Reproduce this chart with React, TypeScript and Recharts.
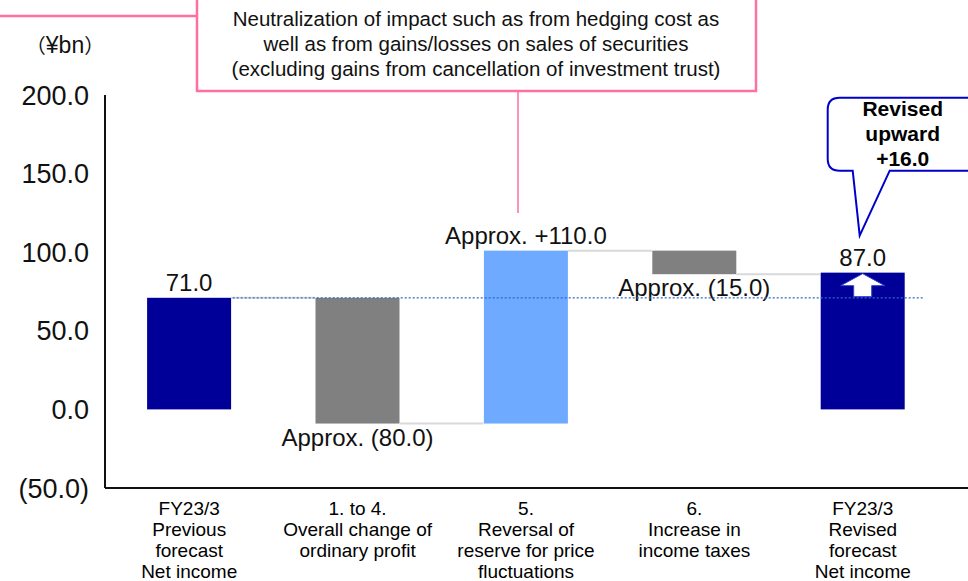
import { BarChart, Bar, XAxis, YAxis } from 'recharts';

const categories = [
  'FY23/3\nPrevious\nforecast\nNet income',
  '1. to 4.\nOverall change of\nordinary profit',
  '5.\nReversal of\nreserve for price\nfluctuations',
  '6.\nIncrease in\nincome taxes',
  'FY23/3\nRevised\nforecast\nNet income',
];
const changes = [71, -80, 110, -15, 87];
const isTotal = [true, false, false, false, true];
const valueLabels = ['71.0', 'Approx. (80.0)', 'Approx. +110.0', 'Approx. (15.0)', '87.0'];
const barColors = ['#000099', '#808080', '#6EAAFF', '#808080', '#000099'];
const yTicks = [-50, 0, 50, 100, 150, 200];
const previousForecast = 71;
const noteLines = [
  'Neutralization of impact such as from hedging cost as',
  'well as from gains/losses on sales of securities',
  '(excluding gains from cancellation of investment trust)',
];
const calloutLines = ['Revised', 'upward', '+16.0'];

let running = 0;
const data = categories.map((name, i) => {
  const start = isTotal[i] ? 0 : running;
  const end = isTotal[i] ? changes[i] : running + changes[i];
  running = end;
  return {
    name,
    range: [Math.min(start, end), Math.max(start, end)],
    up: end >= start,
    label: valueLabels[i],
    color: barColors[i],
  };
});

const FONT = '"Liberation Sans", Arial, "Noto Sans CJK JP", sans-serif';
const CJK = '"Noto Sans CJK JP", sans-serif';

function fmtTick(v: number) {
  return v < 0 ? `(${Math.abs(v).toFixed(1)})` : v.toFixed(1);
}

function CategoryTick({ x, y, payload }: any) {
  const lines = String(payload.value).split('\n');
  return (
    <text x={x} y={y} textAnchor="middle" fontSize={19} fill="#000" fontFamily={FONT}>
      {lines.map((l, i) => (
        <tspan key={i} x={x} dy={i === 0 ? 27 : 21}>
          {l}
        </tspan>
      ))}
    </text>
  );
}

function WaterfallBar(props: any) {
  const { x, y, width, height, payload, index } = props;
  const [lo, hi] = payload.range;
  const yAt = (v: number) => y + ((hi - v) * height) / (hi - lo);
  const cx = x + width / 2;
  const bottom = y + height;
  const endY = payload.up ? y : bottom;
  const last = index === data.length - 1;

  return (
    <g>
      <rect x={x} y={y} width={width} height={height} fill={payload.color} />
      {!last && (
        <line x1={x + width} x2={x + 2 * width} y1={endY} y2={endY} stroke="#d9d9d9" strokeWidth={2} />
      )}
      <text
        x={cx}
        y={payload.up ? y - 7 : bottom + 22}
        textAnchor="middle"
        fontSize={24}
        fill="#111"
        fontFamily={FONT}
      >
        {payload.label}
      </text>
      {last && (
        <g>
          {/* white up arrow */}
          <polygon
            points={[
              [cx, y + 1],
              [cx + 22, y + 13],
              [cx + 9, y + 13],
              [cx + 9, y + 24],
              [cx - 9, y + 24],
              [cx - 9, y + 13],
              [cx - 22, y + 13],
            ]
              .map((p) => p.join(','))
              .join(' ')}
            fill="#fff"
            stroke="#3344cc"
            strokeWidth={1}
          />
          {/* dotted line at previous forecast level */}
          <line
            x1={x - 7 * width}
            x2={x + width + 20}
            y1={yAt(previousForecast)}
            y2={yAt(previousForecast)}
            stroke="#3366cc"
            strokeWidth={1.2}
            strokeDasharray="2 2"
          />
          {/* callout */}
          <path
            d={`M ${x + 200} ${y - 175} L ${x + 19} ${y - 175} Q ${x + 7} ${y - 175} ${x + 7} ${y - 163}
                L ${x + 7} ${y - 114} Q ${x + 7} ${y - 102} ${x + 19} ${y - 102}
                L ${x + 32} ${y - 102} L ${x + 39} ${y - 37} L ${x + 69} ${y - 102} L ${x + 200} ${y - 102}`}
            fill="#fff"
            stroke="#0000cc"
            strokeWidth={2}
          />
          <text
            x={x + 82}
            y={y - 157}
            textAnchor="middle"
            fontSize={21}
            fontWeight="bold"
            fill="#000"
            fontFamily={FONT}
          >
            {calloutLines.map((l, i) => (
              <tspan key={i} x={x + 82} dy={i === 0 ? 0 : 25}>
                {l}
              </tspan>
            ))}
          </text>
        </g>
      )}
    </g>
  );
}

export default function App() {
  return (
    <div style={{ position: 'absolute', left: 0, top: 0, width: 968, height: 581, fontFamily: FONT, background: '#fff' }}>
      <BarChart
        width={968}
        height={581}
        data={data}
        margin={{ top: 95, right: 0, bottom: 0, left: 0 }}
        barCategoryGap="25%"
      >
        <XAxis
          dataKey="name"
          height={93}
          interval={0}
          tick={<CategoryTick />}
          tickLine={false}
          tickSize={0}
          tickMargin={0}
          padding={{ left: 0, right: 21 }}
          axisLine={{ stroke: '#111', strokeWidth: 2 }}
        />
        <YAxis
          width={105}
          domain={[-50, 200]}
          ticks={yTicks}
          tickFormatter={fmtTick}
          tickLine={false}
          tickSize={8}
          tickMargin={8}
          tick={{ fontSize: 27, fill: '#111', fontFamily: FONT }}
          axisLine={{ stroke: '#111', strokeWidth: 2 }}
          allowDataOverflow
        />
        <Bar dataKey="range" shape={WaterfallBar} isAnimationActive={false} />
      </BarChart>
      <svg
        width={968}
        height={581}
        style={{ position: 'absolute', left: 0, top: 0, pointerEvents: 'none' }}
      >
        <text x={65} y={53} textAnchor="middle" fill="#111">
          <tspan fontFamily={CJK} fontSize={20}>（</tspan>
          <tspan fontFamily={FONT} fontSize={23}>¥bn</tspan>
          <tspan fontFamily={CJK} fontSize={20}>）</tspan>
        </text>
        <line x1={0} x2={197} y1={16} y2={16} stroke="#ff6f9f" strokeWidth={2.5} />
        <rect x={197} y={-10} width={559} height={101} fill="#fff" stroke="#ff6f9f" strokeWidth={2.5} />
        <line x1={518} x2={518} y1={91} y2={213} stroke="#ff6f9f" strokeWidth={1.5} />
        <text x={476} y={26} textAnchor="middle" fontSize={20.5} fill="#111" fontFamily={FONT}>
          {noteLines.map((l, i) => (
            <tspan key={i} x={476} dy={i === 0 ? 0 : 25}>
              {l}
            </tspan>
          ))}
        </text>
      </svg>
    </div>
  );
}
